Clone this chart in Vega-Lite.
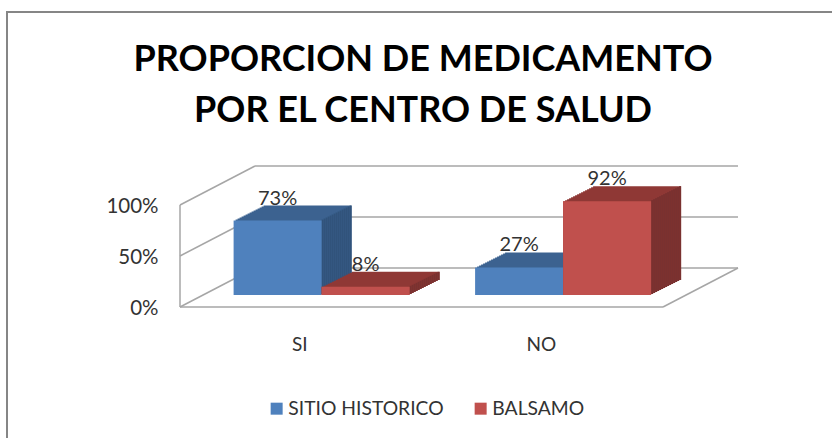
{"$schema":"https://vega.github.io/schema/vega-lite/v6.json","width":828,"height":430,"autosize":"none","padding":{"left":7,"top":12,"right":-3,"bottom":-4},"background":"white","view":{"stroke":"#868686","strokeWidth":2},"config":{"font":"Lato"},
"title":{"text":["PROPORCION DE MEDICAMENTO","POR EL CENTRO DE SALUD"],"font":"Lato","fontSize":36,"fontWeight":"bold","color":"#000000","anchor":"middle","frame":"group","lineHeight":51,"offset":-118,"dx":2},
"datasets":{"bars":[{"c":"SI","s":"SITIO HISTORICO","v":0.73},{"c":"SI","s":"BALSAMO","v":0.08},{"c":"NO","s":"SITIO HISTORICO","v":0.27},{"c":"NO","s":"BALSAMO","v":0.92}],"grid":[{"level":0},{"level":0.5},{"level":1}]},
"resolve":{"scale":{"x":"independent"}},
"layer":[
{"data":{"name":"grid"},"layer":[
{"mark":{"type":"rule","color":"#a6a6a6","strokeWidth":1.5,"xOffset":75,"x2Offset":75,"yOffset":-39},"encoding":{"x":{"datum":0,"type":"quantitative","scale":{"domain":[0,1],"range":[173,656]},"axis":null},"x2":{"datum":1},"y":{"field":"level","type":"quantitative","scale":{"domain":[0,1],"range":[295,193]},"axis":{"values":[0,0.5,1],"format":".0%","offset":-173,"domain":false,"ticks":false,"grid":false,"title":null,"labelFontSize":20.5,"labelFont":"Lato","labelColor":"#333333","labelPadding":22,"labelOffset":1.5}}}},
{"mark":{"type":"rule","color":"#a6a6a6","strokeWidth":1.5,"x2Offset":75,"y2Offset":-39},"encoding":{"x":{"datum":0,"type":"quantitative","scale":{"domain":[0,1],"range":[173,656]},"axis":null},"x2":{"datum":0},"y":{"field":"level","type":"quantitative","scale":{"domain":[0,1],"range":[295,193]},"axis":{"values":[0,0.5,1],"format":".0%","offset":-173,"domain":false,"ticks":false,"grid":false,"title":null,"labelFontSize":20.5,"labelFont":"Lato","labelColor":"#333333","labelPadding":22,"labelOffset":1.5}},"y2":{"field":"level"}}},
{"transform":[{"filter":"datum.level===0"}],"mark":{"type":"rule","color":"#a6a6a6","strokeWidth":1.5,"x2Offset":75,"y2Offset":-39},"encoding":{"x":{"datum":1,"type":"quantitative","scale":{"domain":[0,1],"range":[173,656]},"axis":null},"x2":{"datum":1},"y":{"field":"level","type":"quantitative","scale":{"domain":[0,1],"range":[295,193]},"axis":{"values":[0,0.5,1],"format":".0%","offset":-173,"domain":false,"ticks":false,"grid":false,"title":null,"labelFontSize":20.5,"labelFont":"Lato","labelColor":"#333333","labelPadding":22,"labelOffset":1.5}},"y2":{"field":"level"}}},
{"transform":[{"filter":"datum.level===0"}],"mark":{"type":"rule","color":"#a6a6a6","strokeWidth":1.5},"encoding":{"x":{"datum":0,"type":"quantitative","scale":{"domain":[0,1],"range":[173,656]},"axis":null},"x2":{"datum":1},"y":{"field":"level","type":"quantitative","scale":{"domain":[0,1],"range":[295,193]},"axis":{"values":[0,0.5,1],"format":".0%","offset":-173,"domain":false,"ticks":false,"grid":false,"title":null,"labelFontSize":20.5,"labelFont":"Lato","labelColor":"#333333","labelPadding":22,"labelOffset":1.5}}}},
{"transform":[{"filter":"datum.level===0"}],"mark":{"type":"rule","color":"#a6a6a6","strokeWidth":1.5},"encoding":{"x":{"datum":0,"type":"quantitative","scale":{"domain":[0,1],"range":[173,656]},"axis":null},"y":{"field":"level","type":"quantitative","scale":{"domain":[0,1],"range":[295,193]},"axis":{"values":[0,0.5,1],"format":".0%","offset":-173,"domain":false,"ticks":false,"grid":false,"title":null,"labelFontSize":20.5,"labelFont":"Lato","labelColor":"#333333","labelPadding":22,"labelOffset":1.5}},"y2":{"datum":1}}}
]},
{"data":{"name":"bars"},
"resolve":{"scale":{"x":"independent"}},
"encoding":{"xOffset":{"field":"s","type":"nominal","sort":["SITIO HISTORICO","BALSAMO"],"scale":{"range":[0,176]}},"y":{"field":"v","type":"quantitative","stack":null,"scale":{"domain":[0,1],"range":[295,193]},"axis":{"values":[0,0.5,1],"format":".0%","offset":-173,"domain":false,"ticks":false,"grid":false,"title":null,"labelFontSize":20.5,"labelFont":"Lato","labelColor":"#333333","labelPadding":22,"labelOffset":1.5}},"y2":{"datum":0},"fill":{"condition":{"test":"datum.s==='BALSAMO'","value":"#8f3936"},"value":"#3c6390"}},
"layer":[
{"mark":{"type":"bar","width":88,"yOffset":-27,"y2Offset":-27},"encoding":{"x":{"field":"c","type":"nominal","sort":["SI","NO"],"scale":{"range":[224,707],"paddingInner":0.27,"paddingOuter":0.135},"axis":null}}},
{"mark":{"type":"bar","width":2,"yOffset":-27,"y2Offset":-27},"encoding":{"x":{"field":"c","type":"nominal","sort":["SI","NO"],"scale":{"range":[267,750],"paddingInner":0.27,"paddingOuter":0.135},"axis":null},"fill":{"condition":{"test":"datum.s==='BALSAMO'","value":"#793130"},"value":"#31537b"}}},
{"mark":{"type":"bar","width":88,"yOffset":-26,"y2Offset":-26},"encoding":{"x":{"field":"c","type":"nominal","sort":["SI","NO"],"scale":{"range":[222,705],"paddingInner":0.27,"paddingOuter":0.135},"axis":null}}},
{"mark":{"type":"bar","width":2,"yOffset":-26,"y2Offset":-26},"encoding":{"x":{"field":"c","type":"nominal","sort":["SI","NO"],"scale":{"range":[265,748],"paddingInner":0.27,"paddingOuter":0.135},"axis":null},"fill":{"condition":{"test":"datum.s==='BALSAMO'","value":"#793130"},"value":"#31537b"}}},
{"mark":{"type":"bar","width":88,"yOffset":-25,"y2Offset":-25},"encoding":{"x":{"field":"c","type":"nominal","sort":["SI","NO"],"scale":{"range":[220,703],"paddingInner":0.27,"paddingOuter":0.135},"axis":null}}},
{"mark":{"type":"bar","width":2,"yOffset":-25,"y2Offset":-25},"encoding":{"x":{"field":"c","type":"nominal","sort":["SI","NO"],"scale":{"range":[263,746],"paddingInner":0.27,"paddingOuter":0.135},"axis":null},"fill":{"condition":{"test":"datum.s==='BALSAMO'","value":"#793130"},"value":"#31537b"}}},
{"mark":{"type":"bar","width":88,"yOffset":-24,"y2Offset":-24},"encoding":{"x":{"field":"c","type":"nominal","sort":["SI","NO"],"scale":{"range":[218,701],"paddingInner":0.27,"paddingOuter":0.135},"axis":null}}},
{"mark":{"type":"bar","width":2,"yOffset":-24,"y2Offset":-24},"encoding":{"x":{"field":"c","type":"nominal","sort":["SI","NO"],"scale":{"range":[261,744],"paddingInner":0.27,"paddingOuter":0.135},"axis":null},"fill":{"condition":{"test":"datum.s==='BALSAMO'","value":"#793130"},"value":"#31537b"}}},
{"mark":{"type":"bar","width":88,"yOffset":-23,"y2Offset":-23},"encoding":{"x":{"field":"c","type":"nominal","sort":["SI","NO"],"scale":{"range":[216,699],"paddingInner":0.27,"paddingOuter":0.135},"axis":null}}},
{"mark":{"type":"bar","width":2,"yOffset":-23,"y2Offset":-23},"encoding":{"x":{"field":"c","type":"nominal","sort":["SI","NO"],"scale":{"range":[259,742],"paddingInner":0.27,"paddingOuter":0.135},"axis":null},"fill":{"condition":{"test":"datum.s==='BALSAMO'","value":"#793130"},"value":"#31537b"}}},
{"mark":{"type":"bar","width":88,"yOffset":-22,"y2Offset":-22},"encoding":{"x":{"field":"c","type":"nominal","sort":["SI","NO"],"scale":{"range":[214,697],"paddingInner":0.27,"paddingOuter":0.135},"axis":null}}},
{"mark":{"type":"bar","width":2,"yOffset":-22,"y2Offset":-22},"encoding":{"x":{"field":"c","type":"nominal","sort":["SI","NO"],"scale":{"range":[257,740],"paddingInner":0.27,"paddingOuter":0.135},"axis":null},"fill":{"condition":{"test":"datum.s==='BALSAMO'","value":"#793130"},"value":"#31537b"}}},
{"mark":{"type":"bar","width":88,"yOffset":-21,"y2Offset":-21},"encoding":{"x":{"field":"c","type":"nominal","sort":["SI","NO"],"scale":{"range":[212,695],"paddingInner":0.27,"paddingOuter":0.135},"axis":null}}},
{"mark":{"type":"bar","width":2,"yOffset":-21,"y2Offset":-21},"encoding":{"x":{"field":"c","type":"nominal","sort":["SI","NO"],"scale":{"range":[255,738],"paddingInner":0.27,"paddingOuter":0.135},"axis":null},"fill":{"condition":{"test":"datum.s==='BALSAMO'","value":"#793130"},"value":"#31537b"}}},
{"mark":{"type":"bar","width":88,"yOffset":-20,"y2Offset":-20},"encoding":{"x":{"field":"c","type":"nominal","sort":["SI","NO"],"scale":{"range":[210,693],"paddingInner":0.27,"paddingOuter":0.135},"axis":null}}},
{"mark":{"type":"bar","width":2,"yOffset":-20,"y2Offset":-20},"encoding":{"x":{"field":"c","type":"nominal","sort":["SI","NO"],"scale":{"range":[253,736],"paddingInner":0.27,"paddingOuter":0.135},"axis":null},"fill":{"condition":{"test":"datum.s==='BALSAMO'","value":"#793130"},"value":"#31537b"}}},
{"mark":{"type":"bar","width":88,"yOffset":-19,"y2Offset":-19},"encoding":{"x":{"field":"c","type":"nominal","sort":["SI","NO"],"scale":{"range":[208,691],"paddingInner":0.27,"paddingOuter":0.135},"axis":null}}},
{"mark":{"type":"bar","width":2,"yOffset":-19,"y2Offset":-19},"encoding":{"x":{"field":"c","type":"nominal","sort":["SI","NO"],"scale":{"range":[251,734],"paddingInner":0.27,"paddingOuter":0.135},"axis":null},"fill":{"condition":{"test":"datum.s==='BALSAMO'","value":"#793130"},"value":"#31537b"}}},
{"mark":{"type":"bar","width":88,"yOffset":-18,"y2Offset":-18},"encoding":{"x":{"field":"c","type":"nominal","sort":["SI","NO"],"scale":{"range":[206,689],"paddingInner":0.27,"paddingOuter":0.135},"axis":null}}},
{"mark":{"type":"bar","width":2,"yOffset":-18,"y2Offset":-18},"encoding":{"x":{"field":"c","type":"nominal","sort":["SI","NO"],"scale":{"range":[249,732],"paddingInner":0.27,"paddingOuter":0.135},"axis":null},"fill":{"condition":{"test":"datum.s==='BALSAMO'","value":"#793130"},"value":"#31537b"}}},
{"mark":{"type":"bar","width":88,"yOffset":-17,"y2Offset":-17},"encoding":{"x":{"field":"c","type":"nominal","sort":["SI","NO"],"scale":{"range":[204,687],"paddingInner":0.27,"paddingOuter":0.135},"axis":null}}},
{"mark":{"type":"bar","width":2,"yOffset":-17,"y2Offset":-17},"encoding":{"x":{"field":"c","type":"nominal","sort":["SI","NO"],"scale":{"range":[247,730],"paddingInner":0.27,"paddingOuter":0.135},"axis":null},"fill":{"condition":{"test":"datum.s==='BALSAMO'","value":"#793130"},"value":"#31537b"}}},
{"mark":{"type":"bar","width":88,"yOffset":-16,"y2Offset":-16},"encoding":{"x":{"field":"c","type":"nominal","sort":["SI","NO"],"scale":{"range":[202,685],"paddingInner":0.27,"paddingOuter":0.135},"axis":null}}},
{"mark":{"type":"bar","width":2,"yOffset":-16,"y2Offset":-16},"encoding":{"x":{"field":"c","type":"nominal","sort":["SI","NO"],"scale":{"range":[245,728],"paddingInner":0.27,"paddingOuter":0.135},"axis":null},"fill":{"condition":{"test":"datum.s==='BALSAMO'","value":"#793130"},"value":"#31537b"}}},
{"mark":{"type":"bar","width":88,"yOffset":-15,"y2Offset":-15},"encoding":{"x":{"field":"c","type":"nominal","sort":["SI","NO"],"scale":{"range":[200,683],"paddingInner":0.27,"paddingOuter":0.135},"axis":null}}},
{"mark":{"type":"bar","width":2,"yOffset":-15,"y2Offset":-15},"encoding":{"x":{"field":"c","type":"nominal","sort":["SI","NO"],"scale":{"range":[243,726],"paddingInner":0.27,"paddingOuter":0.135},"axis":null},"fill":{"condition":{"test":"datum.s==='BALSAMO'","value":"#793130"},"value":"#31537b"}}},
{"mark":{"type":"bar","width":88,"yOffset":-14,"y2Offset":-14},"encoding":{"x":{"field":"c","type":"nominal","sort":["SI","NO"],"scale":{"range":[198,681],"paddingInner":0.27,"paddingOuter":0.135},"axis":null}}},
{"mark":{"type":"bar","width":2,"yOffset":-14,"y2Offset":-14},"encoding":{"x":{"field":"c","type":"nominal","sort":["SI","NO"],"scale":{"range":[241,724],"paddingInner":0.27,"paddingOuter":0.135},"axis":null},"fill":{"condition":{"test":"datum.s==='BALSAMO'","value":"#793130"},"value":"#31537b"}}},
{"mark":{"type":"bar","width":88,"yOffset":-13,"y2Offset":-13},"encoding":{"x":{"field":"c","type":"nominal","sort":["SI","NO"],"scale":{"range":[196,679],"paddingInner":0.27,"paddingOuter":0.135},"axis":null}}},
{"mark":{"type":"bar","width":2,"yOffset":-13,"y2Offset":-13},"encoding":{"x":{"field":"c","type":"nominal","sort":["SI","NO"],"scale":{"range":[239,722],"paddingInner":0.27,"paddingOuter":0.135},"axis":null},"fill":{"condition":{"test":"datum.s==='BALSAMO'","value":"#793130"},"value":"#31537b"}}},
{"mark":{"type":"bar","width":88,"yOffset":-12,"y2Offset":-12},"encoding":{"x":{"field":"c","type":"nominal","sort":["SI","NO"],"scale":{"range":[194,677],"paddingInner":0.27,"paddingOuter":0.135},"axis":{"labelOffset":-22,"offset":-135,"domain":false,"ticks":false,"grid":false,"title":null,"labelAngle":0,"labelFontSize":19,"labelFont":"Lato","labelColor":"#333333","labelPadding":28}},"fill":{"field":"s","type":"nominal","scale":{"domain":["SITIO HISTORICO","BALSAMO"],"range":["#4f81bd","#c0504d"]},"legend":{"orient":"none","direction":"horizontal","legendX":260,"legendY":387,"title":null,"symbolType":"square","symbolSize":144,"symbolStrokeWidth":0,"symbolOpacity":1,"labelFontSize":19.3,"labelFont":"Lato","labelColor":"#333333","columnPadding":27,"labelOffset":2}}}},
{"transform":[{"filter":"datum.s==='BALSAMO'"}],"mark":{"type":"bar","width":88,"yOffset":-12,"y2Offset":-12,"opacity":1},"encoding":{"x":{"field":"c","type":"nominal","sort":["SI","NO"],"scale":{"range":[194,677],"paddingInner":0.27,"paddingOuter":0.135},"axis":null},"fill":{"value":"#c0504d"}}},
{"mark":{"type":"text","yOffset":-28,"baseline":"alphabetic","align":"center","fontSize":20,"font":"Lato"},"encoding":{"x":{"field":"c","type":"nominal","sort":["SI","NO"],"scale":{"range":[194,677],"paddingInner":0.27,"paddingOuter":0.135},"axis":null},"y2":null,"text":{"field":"v","type":"quantitative","format":".0%"},"fill":{"value":"#333333"}}}
]}
]}
